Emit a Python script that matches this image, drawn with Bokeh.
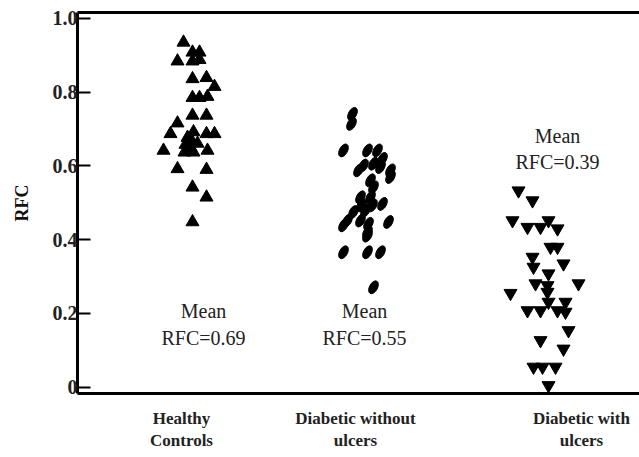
from bokeh.plotting import figure
from bokeh.models import Range1d, FixedTicker, LinearAxis
from bokeh.core.properties import value
from bokeh.embed import file_html
from bokeh.resources import INLINE

# ---- data ----
categories = ["Healthy\nControls", "Diabetic without\nulcers", "Diabetic with\nulcers"]
category_x = [1.04, 2.78, 5.04]

healthy_rfc = [0.935, 0.908, 0.908, 0.884, 0.884, 0.888, 0.836, 0.839, 0.815, 0.785,
               0.785, 0.788, 0.737, 0.737, 0.716, 0.687, 0.692, 0.687, 0.687, 0.658,
               0.664, 0.642, 0.637, 0.637, 0.642, 0.592, 0.590, 0.542, 0.515, 0.448,
               0.677, 0.650, 0.661]
healthy_x = [1.06, 1.15, 1.22, 1.00, 1.15, 1.22, 1.15, 1.29, 1.37, 1.15,
             1.22, 1.30, 1.15, 1.29, 1.00, 0.93, 1.16, 1.29, 1.37, 1.08,
             1.15, 0.86, 1.07, 1.16, 1.30, 1.00, 1.29, 1.15, 1.29, 1.15,
             1.10, 1.13, 1.20]

without_rfc = [0.741, 0.714, 0.642, 0.642, 0.642, 0.619, 0.606, 0.601, 0.588, 0.588,
               0.570, 0.597, 0.542, 0.515, 0.515, 0.497, 0.475, 0.479, 0.452, 0.448,
               0.443, 0.439, 0.420, 0.411, 0.366, 0.366, 0.366, 0.271, 0.561, 0.493,
               0.493, 0.452]
without_x = [2.75, 2.74, 2.66, 2.90, 3.00, 3.05, 2.96, 2.86, 2.81, 3.13,
             3.13, 3.03, 2.96, 2.93, 2.83, 3.05, 2.76, 2.88, 2.70, 3.11,
             2.91, 2.66, 2.90, 2.90, 2.66, 2.90, 3.03, 2.96, 2.93, 2.84,
             2.95, 2.83]

with_rfc = [0.533, 0.506, 0.452, 0.434, 0.434, 0.452, 0.430, 0.380, 0.380, 0.353,
            0.326, 0.335, 0.308, 0.281, 0.276, 0.281, 0.255, 0.258, 0.208, 0.208,
            0.231, 0.208, 0.231, 0.204, 0.127, 0.154, 0.104, 0.055, 0.055, 0.055,
            0.005]
with_x = [4.41, 4.55, 4.35, 4.50, 4.63, 4.71, 4.80, 4.73, 4.80, 4.55,
          4.56, 4.86, 4.71, 4.58, 4.70, 5.01, 4.33, 4.70, 4.50, 4.63,
          4.71, 4.80, 4.88, 4.88, 4.63, 4.91, 4.86, 4.56, 4.65, 4.78,
          4.71]

mean_labels = ["Mean\nRFC=0.69", "Mean\nRFC=0.55", "Mean\nRFC=0.39"]
mean_x = [1.26, 2.87, 4.80]
mean_y = [0.170, 0.170, 0.646]

y_ticks = [0, 0.2, 0.4, 0.6, 0.8, 1.0]

FONT = "serif"

p = figure(width=639, height=457, output_backend="svg", toolbar_location=None,
           x_range=Range1d(0, 5.62), y_range=Range1d(-0.017, 1.016),
           min_border_left=77, min_border_right=0, min_border_top=12,
           min_border_bottom=64)
p.outline_line_color = None
p.xgrid.visible = False
p.ygrid.visible = False
p.background_fill_color = "white"

# y axis
p.yaxis.ticker = FixedTicker(ticks=y_ticks)
p.yaxis.major_label_overrides = {0: "0", 1: "1.0"}
p.yaxis.axis_label = "RFC"
p.yaxis.axis_label_text_font = FONT
p.yaxis.axis_label_text_font_style = "bold"
p.yaxis.axis_label_text_font_size = "18px"
p.yaxis.axis_label_text_color = "#111"
p.yaxis.axis_label_standoff = 18
p.yaxis.major_label_text_font = FONT
p.yaxis.major_label_text_font_style = "bold"
p.yaxis.major_label_text_font_size = "20px"
p.yaxis.major_label_text_color = "#222"
p.yaxis.major_label_standoff = 0
p.yaxis.axis_line_width = 3
p.yaxis.axis_line_color = "black"
p.yaxis.major_tick_in = 13
p.yaxis.major_tick_out = 0
p.yaxis.major_tick_line_width = 2
p.yaxis.minor_tick_line_color = None

# x axis
p.xaxis.ticker = FixedTicker(ticks=category_x)
p.xaxis.major_label_overrides = {cx: c for cx, c in zip(category_x, categories)}
p.xaxis.major_label_text_font = FONT
p.xaxis.major_label_text_font_style = "bold"
p.xaxis.major_label_text_font_size = "17px"
p.xaxis.major_label_text_color = "#222"
p.xaxis.major_label_standoff = 9
p.xaxis.axis_line_width = 3
p.xaxis.axis_line_color = "black"
p.xaxis.major_tick_line_color = None
p.xaxis.minor_tick_line_color = None

top = LinearAxis(ticker=FixedTicker(ticks=[2.5]), axis_line_width=3,
                 axis_line_color="black", major_tick_line_color=None,
                 minor_tick_line_color=None, major_label_text_font_size="0px",
                 major_label_text_color=None)
p.add_layout(top, "above")

# points
p.scatter(healthy_x, healthy_rfc, marker="triangle", size=13,
          fill_color="black", line_color="black")
p.ellipse(x=without_x, y=without_rfc, width=8, height=14,
          width_units="screen", height_units="screen", angle=-0.5,
          fill_color="black", line_color="black")
p.scatter(with_x, with_rfc, marker="inverted_triangle", size=13,
          fill_color="black", line_color="black")

p.text(x=mean_x, y=mean_y, text=mean_labels, text_align="center",
       text_baseline="middle", text_font=value(FONT), text_font_size="20px",
       text_line_height=1.2, text_color="#222")

open("out.html", "w").write(file_html(p, INLINE))
